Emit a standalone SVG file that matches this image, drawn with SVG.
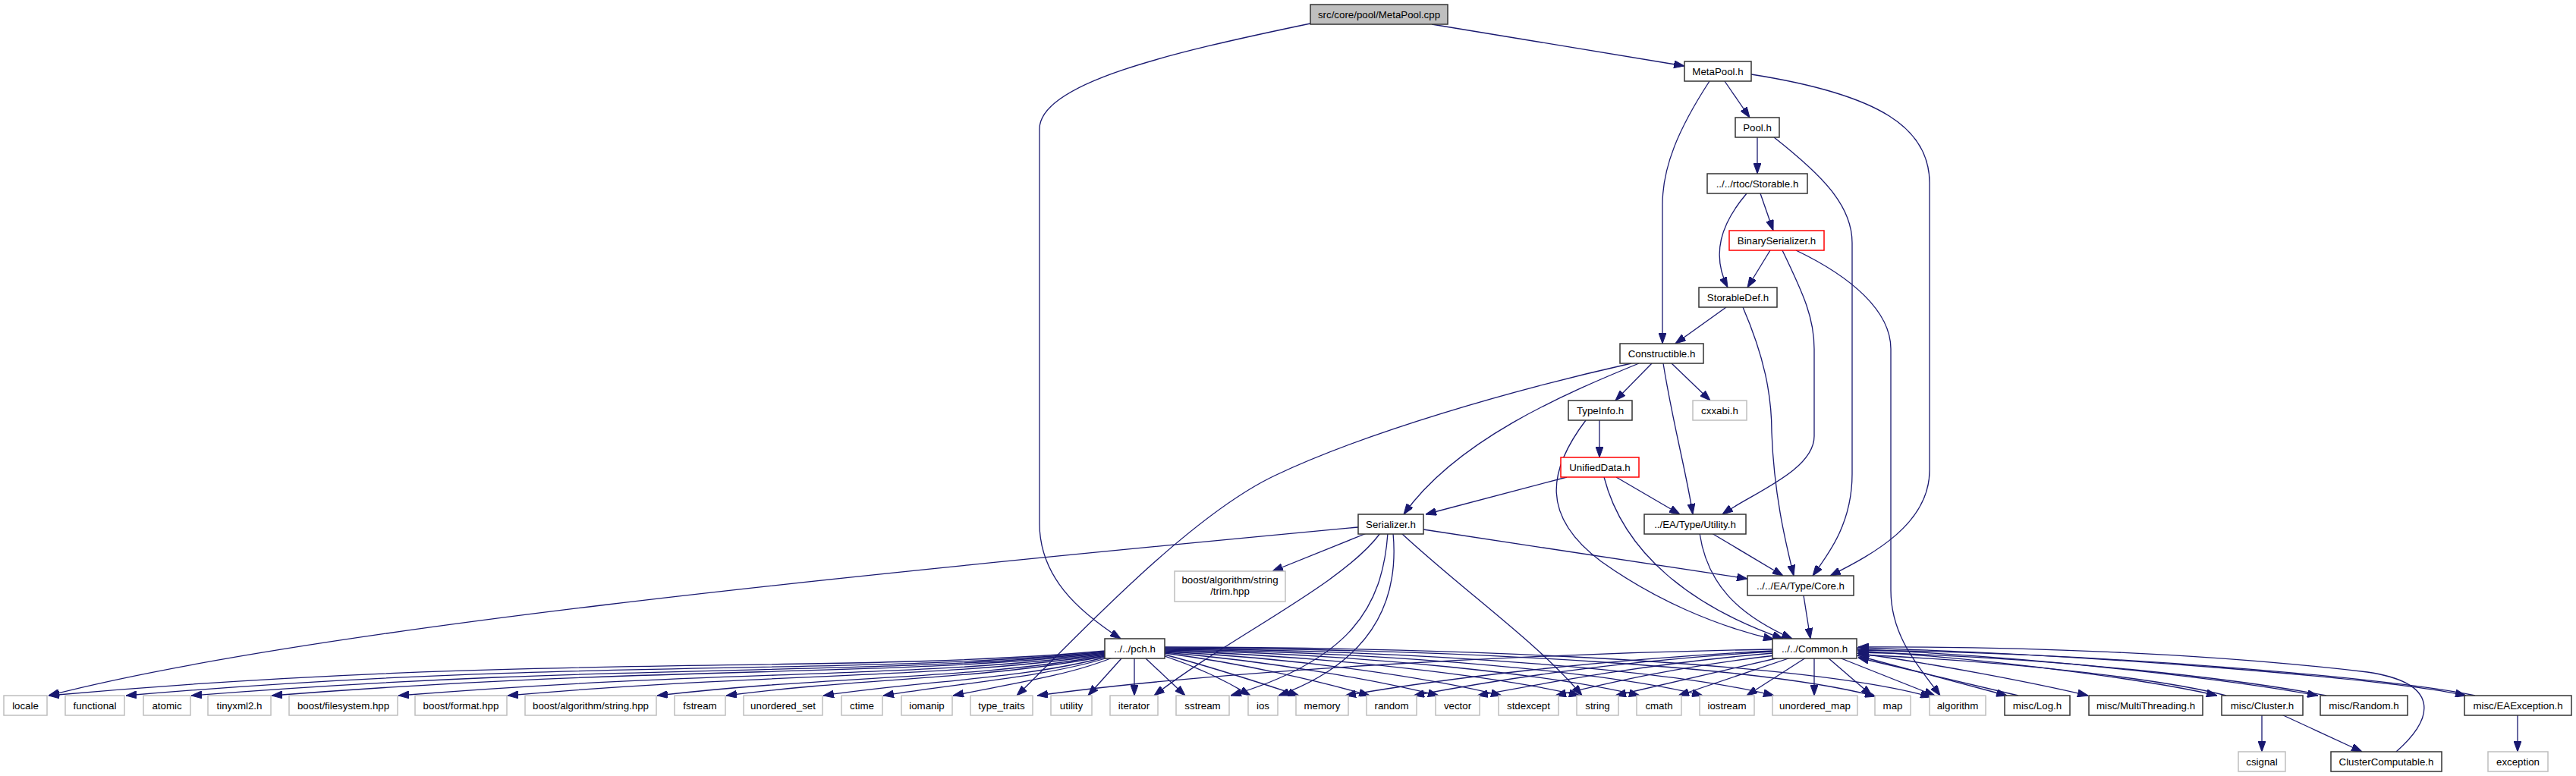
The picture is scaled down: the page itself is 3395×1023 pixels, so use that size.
<svg xmlns="http://www.w3.org/2000/svg" width="3395" height="1023" viewBox="0 0 3395 1023">
<style>
rect{fill:#fff;stroke:#333;stroke-width:1.5}
.x rect{stroke:#bfbfbf}
.r rect{stroke:#ff0000}
.root rect{fill:#bfbfbf}
text{font-family:"Liberation Sans",Arial,Helvetica,sans-serif;font-size:13.3px;text-anchor:middle;fill:#000}
#edges path{fill:none;stroke:#191970;stroke-width:1.3;marker-end:url(#ah)}
</style>
<defs>
<marker id="ah" markerUnits="userSpaceOnUse" markerWidth="14" markerHeight="10" refX="14" refY="5" orient="auto" viewBox="0 0 14 10"><path d="M0,0L14,5L0,10z" fill="#191970" stroke="#191970" stroke-width="1"/></marker>
</defs>
<rect x="0" y="0" width="3395" height="1023" style="fill:#fff;stroke:none"/>
<g id="edges">
<path d="M1887,32 L2220,87"/>
<path d="M1727,31 C1540,70 1370,110 1370,170 L1370,690 C1370,760 1420,805 1477,842"/>
<path d="M2273,107 L2306,155"/>
<path d="M2253,107 C2212,170 2191,220 2191,270 L2191,453"/>
<path d="M2308,98 C2480,125 2543,170 2543,241 L2543,620 C2543,690 2470,730 2412,759"/>
<path d="M2316,181 L2316,229"/>
<path d="M2338,181 C2400,230 2441,270 2441,320 L2441,625 C2441,690 2410,730 2389,759"/>
<path d="M2302,255 C2268,295 2255,335 2277,379"/>
<path d="M2320,255 L2337,304"/>
<path d="M2333,330 L2303,379"/>
<path d="M2349,330 C2378,390 2391,420 2391,460 L2391,575 C2391,620 2310,650 2270,678"/>
<path d="M2367,330 C2440,365 2492,410 2492,460 L2492,778 C2492,840 2530,880 2557,917"/>
<path d="M2275,405 L2208,453"/>
<path d="M2297,405 C2325,470 2335,520 2335,570 C2338,650 2352,710 2364,759"/>
<path d="M2177,479 L2129,528"/>
<path d="M2203,479 L2254,528"/>
<path d="M2192,479 C2205,560 2222,620 2231,678"/>
<path d="M2160,479 C2060,520 1920,580 1850,678"/>
<path d="M2150,479 C1990,515 1800,570 1680,627 C1560,684 1400,860 1340,917"/>
<path d="M2108,554 L2108,603"/>
<path d="M2090,554 C2040,620 2030,680 2110,740 C2180,790 2260,825 2338,843"/>
<path d="M2065,629 L1879,678"/>
<path d="M2130,629 L2214,678"/>
<path d="M2114,629 C2140,730 2230,800 2350,842"/>
<path d="M2256,703 L2350,759"/>
<path d="M2240,703 C2250,770 2290,810 2362,842"/>
<path d="M2377,785 L2386,842"/>
<path d="M1876,698 L2303,763"/>
<path d="M1801,703 L1677,753"/>
<path d="M1790,695 C1100,760 400,830 64,917"/>
<path d="M1819,703 C1770,770 1620,840 1521,917"/>
<path d="M1829,703 C1822,800 1780,870 1622,917"/>
<path d="M1836,703 C1845,800 1800,875 1685,917"/>
<path d="M1847,703 C1930,780 2030,850 2085,917"/>
<path d="M1457,858 C1100,890 700,860 64,917"/>
<path d="M1457,859 C1120,892 760,866 166,917"/>
<path d="M1457,860 C1140,893 820,872 252,917"/>
<path d="M1457,861 C1160,894 880,876 358,917"/>
<path d="M1457,862 C1200,895 960,882 525,917"/>
<path d="M1457,863 C1230,896 1020,886 669,917"/>
<path d="M1457,864 C1280,896 1100,890 866,917"/>
<path d="M1457,865 C1300,896 1140,893 957,917"/>
<path d="M1458,866 C1350,895 1220,897 1085,917"/>
<path d="M1460,867 C1380,892 1270,900 1164,917"/>
<path d="M1466,867 C1410,890 1330,902 1256,917"/>
<path d="M1478,868 L1434,917"/>
<path d="M1495,868 L1495,917"/>
<path d="M1510,868 L1562,917"/>
<path d="M1535,865 C1580,880 1620,900 1648,917"/>
<path d="M1535,863 C1600,880 1660,900 1712,917"/>
<path d="M1535,861 C1640,875 1740,898 1805,917"/>
<path d="M1535,860 C1680,872 1820,898 1896,917"/>
<path d="M1535,859 C1720,868 1890,895 1979,917"/>
<path d="M1535,858 C1760,865 1980,893 2082,917"/>
<path d="M1535,857 C1800,862 2050,890 2161,917"/>
<path d="M1535,856 C1850,860 2130,888 2244,917"/>
<path d="M1535,855 C1900,858 2210,885 2338,917"/>
<path d="M1535,854 C1950,856 2330,880 2472,918"/>
<path d="M1535,853 C2000,854 2400,878 2545,919"/>
<path d="M2336,856 C2000,862 1600,885 1367,917"/>
<path d="M2336,858 C2100,870 1900,895 1773,917"/>
<path d="M2336,859 C2120,872 1970,897 1863,917"/>
<path d="M2337,861 C2170,875 2040,900 1947,917"/>
<path d="M2340,864 C2200,880 2110,903 2050,917"/>
<path d="M2345,867 L2129,917"/>
<path d="M2360,867 L2212,917"/>
<path d="M2380,867 L2302,917"/>
<path d="M2391,867 L2391,917"/>
<path d="M2409,867 L2467,917"/>
<path d="M2424,867 L2550,917"/>
<path d="M2447,864 L2645,917"/>
<path d="M2447,861 C2550,875 2680,900 2752,917"/>
<path d="M2447,858 C2650,870 2850,900 2922,917"/>
<path d="M2447,856 C2700,866 2950,898 3055,917"/>
<path d="M2447,854 C2750,862 3150,895 3250,917"/>
<path d="M2660,917 L2449,867"/>
<path d="M2934,917 C2850,895 2650,872 2449,863"/>
<path d="M3066,917 C2950,895 2700,866 2449,860"/>
<path d="M3262,917 C3150,893 2750,860 2449,857"/>
<path d="M3158,991 C3210,945 3215,900 3120,886 C2900,860 2650,852 2449,853"/>
<path d="M2981,942 L2981,991"/>
<path d="M3007,942 L3113,991"/>
<path d="M3318,942 L3318,991"/>
</g>
<g id="n_metapool_cpp" class="root"><rect x="1727" y="6" width="181" height="26"/><text x="1817.5" y="23.5">src/core/pool/MetaPool.cpp</text></g>
<g id="n_metapool_h"><rect x="2220" y="81" width="88" height="26"/><text x="2264" y="98.5">MetaPool.h</text></g>
<g id="n_pool_h"><rect x="2287" y="155" width="58" height="26"/><text x="2316" y="172.5">Pool.h</text></g>
<g id="n_storable_h"><rect x="2250" y="229" width="132" height="26"/><text x="2316" y="246.5">../../rtoc/Storable.h</text></g>
<g id="n_binaryserializer_h" class="r"><rect x="2279" y="304" width="125" height="26"/><text x="2341.5" y="321.5">BinarySerializer.h</text></g>
<g id="n_storabledef_h"><rect x="2239" y="379" width="103" height="26"/><text x="2290.5" y="396.5">StorableDef.h</text></g>
<g id="n_constructible_h"><rect x="2135" y="453" width="110" height="26"/><text x="2190" y="470.5">Constructible.h</text></g>
<g id="n_typeinfo_h"><rect x="2067" y="528" width="84" height="26"/><text x="2109" y="545.5">TypeInfo.h</text></g>
<g id="n_cxxabi_h" class="x"><rect x="2231" y="528" width="71" height="26"/><text x="2266.5" y="545.5">cxxabi.h</text></g>
<g id="n_unifieddata_h" class="r"><rect x="2057" y="603" width="103" height="26"/><text x="2108.5" y="620.5">UnifiedData.h</text></g>
<g id="n_serializer_h"><rect x="1790" y="678" width="86" height="26"/><text x="1833" y="695.5">Serializer.h</text></g>
<g id="n_utility_h"><rect x="2167" y="678" width="134" height="26"/><text x="2234" y="695.5">../EA/Type/Utility.h</text></g>
<g id="n_core_h"><rect x="2303" y="759" width="140" height="26"/><text x="2373" y="776.5">../../EA/Type/Core.h</text></g>
<g id="n_trim_hpp" class="x"><rect x="1548" y="753" width="146" height="40"/><text x="1621" y="769">boost/algorithm/string</text><text x="1621" y="784">/trim.hpp</text></g>
<g id="n_common_h"><rect x="2336" y="842" width="111" height="26"/><text x="2391.5" y="859.5">../../Common.h</text></g>
<g id="n_pch_h"><rect x="1456" y="842" width="79" height="26"/><text x="1495.5" y="859.5">../../pch.h</text></g>
<g id="n_locale" class="x"><rect x="5" y="917" width="57" height="26"/><text x="33.5" y="934.5">locale</text></g>
<g id="n_functional" class="x"><rect x="86" y="917" width="78" height="26"/><text x="125" y="934.5">functional</text></g>
<g id="n_atomic" class="x"><rect x="189" y="917" width="62" height="26"/><text x="220" y="934.5">atomic</text></g>
<g id="n_tinyxml2" class="x"><rect x="274" y="917" width="83" height="26"/><text x="315.5" y="934.5">tinyxml2.h</text></g>
<g id="n_filesystem" class="x"><rect x="381" y="917" width="143" height="26"/><text x="452.5" y="934.5">boost/filesystem.hpp</text></g>
<g id="n_format" class="x"><rect x="547" y="917" width="121" height="26"/><text x="607.5" y="934.5">boost/format.hpp</text></g>
<g id="n_algstring" class="x"><rect x="692" y="917" width="173" height="26"/><text x="778.5" y="934.5">boost/algorithm/string.hpp</text></g>
<g id="n_fstream" class="x"><rect x="889" y="917" width="67" height="26"/><text x="922.5" y="934.5">fstream</text></g>
<g id="n_unordered_set" class="x"><rect x="980" y="917" width="104" height="26"/><text x="1032" y="934.5">unordered_set</text></g>
<g id="n_ctime" class="x"><rect x="1109" y="917" width="54" height="26"/><text x="1136" y="934.5">ctime</text></g>
<g id="n_iomanip" class="x"><rect x="1188" y="917" width="67" height="26"/><text x="1221.5" y="934.5">iomanip</text></g>
<g id="n_type_traits" class="x"><rect x="1279" y="917" width="82" height="26"/><text x="1320" y="934.5">type_traits</text></g>
<g id="n_utility" class="x"><rect x="1385" y="917" width="54" height="26"/><text x="1412" y="934.5">utility</text></g>
<g id="n_iterator" class="x"><rect x="1463" y="917" width="63" height="26"/><text x="1494.5" y="934.5">iterator</text></g>
<g id="n_sstream" class="x"><rect x="1550" y="917" width="70" height="26"/><text x="1585" y="934.5">sstream</text></g>
<g id="n_ios" class="x"><rect x="1645" y="917" width="39" height="26"/><text x="1664.5" y="934.5">ios</text></g>
<g id="n_memory" class="x"><rect x="1708" y="917" width="69" height="26"/><text x="1742.5" y="934.5">memory</text></g>
<g id="n_random" class="x"><rect x="1801" y="917" width="66" height="26"/><text x="1834" y="934.5">random</text></g>
<g id="n_vector" class="x"><rect x="1892" y="917" width="58" height="26"/><text x="1921" y="934.5">vector</text></g>
<g id="n_stdexcept" class="x"><rect x="1975" y="917" width="79" height="26"/><text x="2014.5" y="934.5">stdexcept</text></g>
<g id="n_string" class="x"><rect x="2078" y="917" width="55" height="26"/><text x="2105.5" y="934.5">string</text></g>
<g id="n_cmath" class="x"><rect x="2157" y="917" width="59" height="26"/><text x="2186.5" y="934.5">cmath</text></g>
<g id="n_iostream" class="x"><rect x="2240" y="917" width="72" height="26"/><text x="2276" y="934.5">iostream</text></g>
<g id="n_unordered_map" class="x"><rect x="2336" y="917" width="112" height="26"/><text x="2392" y="934.5">unordered_map</text></g>
<g id="n_map" class="x"><rect x="2471" y="917" width="47" height="26"/><text x="2494.5" y="934.5">map</text></g>
<g id="n_algorithm" class="x"><rect x="2543" y="917" width="74" height="26"/><text x="2580" y="934.5">algorithm</text></g>
<g id="n_log_h"><rect x="2642" y="917" width="86" height="26"/><text x="2685" y="934.5">misc/Log.h</text></g>
<g id="n_multithreading_h"><rect x="2753" y="917" width="150" height="26"/><text x="2828" y="934.5">misc/MultiThreading.h</text></g>
<g id="n_cluster_h"><rect x="2928" y="917" width="107" height="26"/><text x="2981.5" y="934.5">misc/Cluster.h</text></g>
<g id="n_random_h"><rect x="3058" y="917" width="115" height="26"/><text x="3115.5" y="934.5">misc/Random.h</text></g>
<g id="n_eaexception_h"><rect x="3248" y="917" width="141" height="26"/><text x="3318.5" y="934.5">misc/EAException.h</text></g>
<g id="n_csignal" class="x"><rect x="2950" y="991" width="62" height="26"/><text x="2981" y="1008.5">csignal</text></g>
<g id="n_clustercomputable_h"><rect x="3072" y="991" width="146" height="26"/><text x="3145" y="1008.5">ClusterComputable.h</text></g>
<g id="n_exception" class="x"><rect x="3279" y="991" width="79" height="26"/><text x="3318.5" y="1008.5">exception</text></g>
</svg>
